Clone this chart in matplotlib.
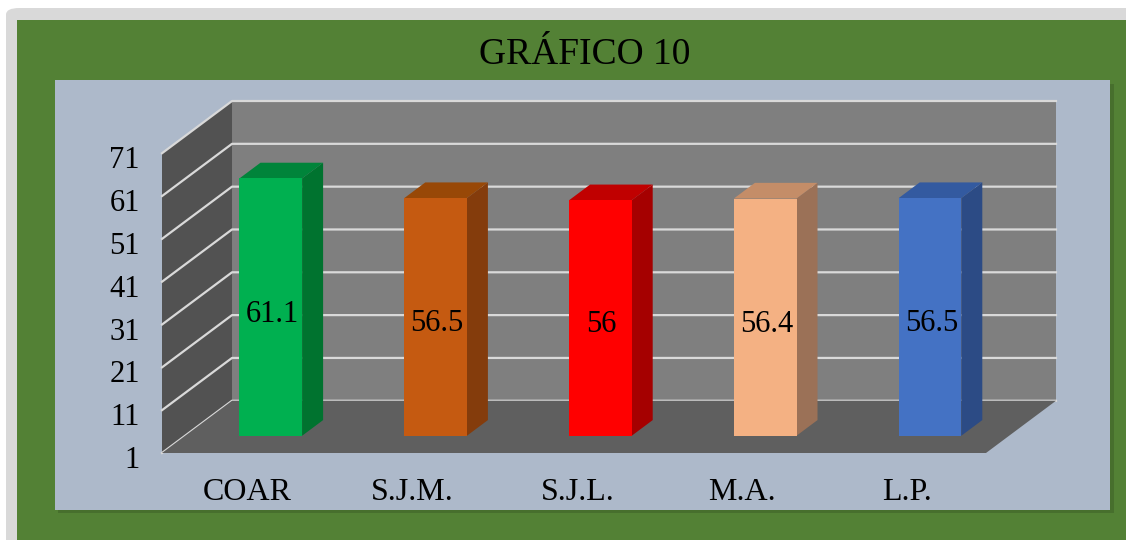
import matplotlib
matplotlib.use("Agg")
import matplotlib.pyplot as plt
import matplotlib.transforms as mtransforms
from matplotlib.patches import Polygon, Rectangle, FancyBboxPatch

# data
categories = ["COAR", "S.J.M.", "S.J.L.", "M.A.", "L.P."]
values = [61.1, 56.5, 56, 56.4, 56.5]
front_colors = ["#00b050", "#c55a11", "#ff0000", "#f4b183", "#4472c4"]
side_colors = ["#00732f", "#843c0c", "#a50000", "#9b7157", "#2c4b85"]
top_colors = ["#00843a", "#984807", "#c00000", "#c48d68", "#335aa0"]
yticks = list(range(1, 72, 10))

W, H = 1126, 540
fig = plt.figure(figsize=(W / 100, H / 100), dpi=100, facecolor="white")
plt.rcParams["font.family"] = ["Liberation Serif", "DejaVu Serif"]


def fr(x, y, w, h):
    # pixel box (top-left origin) -> figure fraction
    return x / W, 1 - (y + h) / H, w / W, h / H


def backdrop(patch):
    patch.set_zorder(-10)
    fig.patches.append(patch)


# frame: grey rounded edge, green panel, blue-grey plot area
x, y, w, h = fr(6, 8, 1200, 600)
backdrop(FancyBboxPatch((x, y), w, h, boxstyle="round,pad=0,rounding_size=0.012",
                        transform=fig.transFigure, fc="#d9d9d9", ec="none"))
x, y, w, h = fr(17, 20, 1200, 600)
backdrop(Rectangle((x, y), w, h, transform=fig.transFigure, fc="#538135", ec="none"))
x, y, w, h = fr(56, 82, 1056, 429)
backdrop(Rectangle((x + 0.002, y - 0.004), w, h, transform=fig.transFigure,
                   fc="#3f6428", ec="none", alpha=0.6))
x, y, w, h = fr(55, 80, 1055, 430)
backdrop(Rectangle((x, y), w, h, transform=fig.transFigure, fc="#adb9ca", ec="none"))

fig.text(585 / W, 1 - 55 / H, "GRÁFICO 10", ha="center", va="center", fontsize=27)

# oblique 3-D box: front plane at depth 0, back wall at depth 1
DX, DY = 0.4248, 12.2
YMIN, YMAX = 1, 71
n = len(categories)


def P(cx, v, t):
    return (cx + t * DX, v + t * DY)


ax = fig.add_axes(fr(162, 101, 1056 - 162, 453 - 101))
ax.set_xlim(0, n + DX)
ax.set_ylim(YMIN, YMAX + DY)
ax.patch.set_visible(False)
for s in ax.spines.values():
    s.set_visible(False)

# walls
ax.add_patch(Polygon([P(0, YMIN, 1), P(n, YMIN, 1), P(n, YMAX, 1), P(0, YMAX, 1)],
                     fc="#7f7f7f", ec="none", zorder=1))
ax.add_patch(Polygon([P(0, YMIN, 0), P(0, YMIN, 1), P(0, YMAX, 1), P(0, YMAX, 0)],
                     fc="#525252", ec="none", zorder=1))
ax.add_patch(Polygon([P(0, YMIN, 0), P(n, YMIN, 0), P(n, YMIN, 1), P(0, YMIN, 1)],
                     fc="#5f5f5f", ec="none", zorder=2))

# gridlines on side and back walls
for v in yticks:
    gx = [P(0, v, 0)[0], P(0, v, 1)[0], P(n, v, 1)[0]]
    gy = [P(0, v, 0)[1], P(0, v, 1)[1], P(n, v, 1)[1]]
    ax.plot(gx, gy, color="#d9d9d9", lw=1.6, zorder=1.5, clip_on=False)

# bars
bw, t0, t1 = 0.38, 0.33, 0.63
for i, (v, fc, sc, tc) in enumerate(zip(values, front_colors, side_colors, top_colors)):
    x0 = i + 0.52 - bw / 2
    x1 = x0 + bw
    front = [P(x0, YMIN, t0), P(x1, YMIN, t0), P(x1, v, t0), P(x0, v, t0)]
    side = [P(x1, YMIN, t0), P(x1, YMIN, t1), P(x1, v, t1), P(x1, v, t0)]
    top = [P(x0, v, t0), P(x1, v, t0), P(x1, v, t1), P(x0, v, t1)]
    ax.add_patch(Polygon(side, fc=sc, ec="none", zorder=3))
    ax.add_patch(Polygon(top, fc=tc, ec="none", zorder=3))
    ax.add_patch(Polygon(front, fc=fc, ec="none", zorder=4))
    ax.annotate(f"{v:g}", P(i + 0.52, (YMIN + v) / 2, t0), xytext=(1, -5),
                textcoords="offset points", ha="center", va="center",
                fontsize=22, zorder=5)

ax.set_yticks(yticks)
ax.set_xticks([i + 0.52 for i in range(n)])
ax.set_xticklabels(categories)
ax.tick_params(axis="y", length=0, pad=16, labelsize=22)
ax.tick_params(axis="x", length=0, pad=18, labelsize=23)

# nudge the value-axis labels slightly downward
shift = mtransforms.ScaledTranslation(0, -4 / 100, fig.dpi_scale_trans)
for lab in ax.get_yticklabels():
    lab.set_transform(lab.get_transform() + shift)

fig.savefig("out.png", dpi=100, facecolor="white")
